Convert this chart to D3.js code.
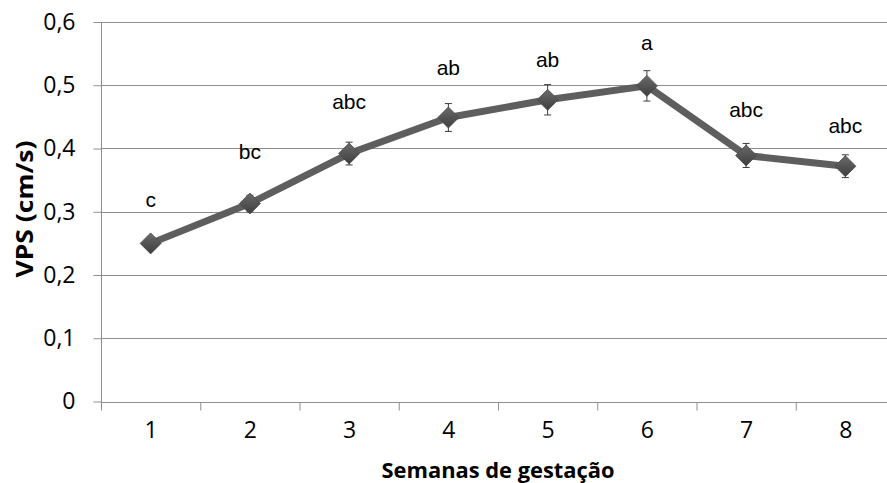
<!DOCTYPE html>
<html>
<head>
<meta charset="utf-8">
<script src="https://cdn.jsdelivr.net/npm/d3@7"></script>
<style>
  body { margin: 0; background: #fff; }
  svg { display: block; }
</style>
</head>
<body>
<script>
// weeks of gestation and VPS means (cm/s)
var weeks = [1, 2, 3, 4, 5, 6, 7, 8]
var vps = [0.250, 0.313, 0.392, 0.449, 0.477, 0.499, 0.389, 0.372]
var vpsErr = [0.006, 0.013, 0.018, 0.022, 0.024, 0.024, 0.019, 0.018]
// significance letters and the height (in cm/s) where each one sits
var letters = ["c", "bc", "abc", "ab", "ab", "a", "abc", "abc"]
var letterAt = [0.307, 0.383, 0.462, 0.516, 0.529, 0.555, 0.450, 0.424]
var yTicks = [0, 0.1, 0.2, 0.3, 0.4, 0.5, 0.6]

var width = 887
var height = 483

var svg = d3.select("body").append("svg")
    .attr("width", width)
    .attr("height", height)

// x runs in week units, bands are one week wide (chart is cut off on the right)
var x = d3.scaleLinear([0.5, 8.5], [101, 895])
var y = d3.scaleLinear([0, 0.6], [401.5, 22])

var gridColor = "#8e8e8e"

// horizontal gridlines
svg.append("g")
    .selectAll("line")
    .data(yTicks.slice(1))
    .join("line")
    .attr("x1", x(0.5))
    .attr("x2", x(8.5))
    .attr("y1", d => Math.round(y(d)) + 0.5)
    .attr("y2", d => Math.round(y(d)) + 0.5)
    .attr("stroke", gridColor)
    .attr("stroke-width", 1)

// y axis
var yAxis = svg.append("g")
    .attr("transform", "translate(" + (Math.round(x(0.5)) + 0.5) + ",0)")
    .call(d3.axisLeft(y)
        .tickValues(yTicks)
        .tickSize(8)
        .tickPadding(18)
        .tickFormat(d => d === 0 ? "0" : d3.format(".1f")(d).replace(".", ",")))
yAxis.select(".domain").attr("stroke", gridColor).attr("d", "M-0," + y(0.6) + "V" + (y(0) + 8))
yAxis.selectAll(".tick line").attr("stroke", gridColor)
yAxis.selectAll(".tick text")
    .attr("fill", "#000")
    .style("font-family", "'Open Sans', sans-serif")
    .style("font-size", "23px")

// x axis: tick marks between weeks, labels on the weeks
var xAxis = svg.append("g")
    .attr("transform", "translate(0," + (Math.round(y(0)) + 0.5) + ")")
    .call(d3.axisBottom(x)
        .tickValues(d3.range(0.5, 9, 1))
        .tickSize(8)
        .tickFormat(""))
xAxis.select(".domain").attr("stroke", gridColor).attr("d", "M" + x(0.5) + ",0H" + x(8.5))
xAxis.selectAll(".tick line").attr("stroke", gridColor)

svg.append("g")
    .attr("transform", "translate(0," + (Math.round(y(0)) + 0.5) + ")")
    .call(d3.axisBottom(x).tickValues(weeks).tickSize(0).tickPadding(19).tickFormat(d3.format("d")))
    .call(g => g.select(".domain").remove())
    .selectAll("text")
    .attr("fill", "#000")
    .style("font-family", "'Open Sans', sans-serif")
    .style("font-size", "23px")

// axis titles
svg.append("text")
    .attr("x", (x(0.5) + x(8.5)) / 2)
    .attr("y", 478)
    .attr("text-anchor", "middle")
    .attr("textLength", 233)
    .attr("lengthAdjust", "spacingAndGlyphs")
    .style("font-family", "'Open Sans', sans-serif")
    .style("font-weight", "bold")
    .style("font-size", "22px")
    .text("Semanas de gestação")

svg.append("text")
    .attr("transform", "translate(33," + 209 + ") rotate(-90)")
    .attr("text-anchor", "middle")
    .attr("textLength", 137)
    .attr("lengthAdjust", "spacingAndGlyphs")
    .style("font-family", "'Open Sans', sans-serif")
    .style("font-weight", "bold")
    .style("font-size", "23px")
    .text("VPS (cm/s)")

var pts = weeks.map((w, i) => ({ w: w, v: vps[i], e: vpsErr[i], l: letters[i], la: letterAt[i] }))

// the line
svg.append("path")
    .datum(pts)
    .attr("fill", "none")
    .attr("stroke", "#5e5e5e")
    .attr("stroke-width", 7)
    .attr("stroke-linejoin", "round")
    .attr("d", d3.line().x(d => x(d.w)).y(d => y(d.v)))

// error bars
var bars = svg.append("g")
    .attr("stroke", "#3c3c3c")
    .attr("stroke-width", 1)
    .selectAll("g")
    .data(pts)
    .join("g")
bars.append("line")
    .attr("x1", d => x(d.w)).attr("x2", d => x(d.w))
    .attr("y1", d => y(d.v + d.e)).attr("y2", d => y(d.v - d.e))
bars.append("line")
    .attr("x1", d => x(d.w) - 3.5).attr("x2", d => x(d.w) + 3.5)
    .attr("y1", d => y(d.v + d.e)).attr("y2", d => y(d.v + d.e))
bars.append("line")
    .attr("x1", d => x(d.w) - 3.5).attr("x2", d => x(d.w) + 3.5)
    .attr("y1", d => y(d.v - d.e)).attr("y2", d => y(d.v - d.e))

// diamond markers with a little shading
var grad = svg.append("defs").append("linearGradient")
    .attr("id", "mk")
    .attr("x1", "0").attr("y1", "0").attr("x2", "0").attr("y2", "1")
grad.append("stop").attr("offset", "0%").attr("stop-color", "#6a6a6a")
grad.append("stop").attr("offset", "100%").attr("stop-color", "#3e3e3e")

svg.append("g")
    .selectAll("path")
    .data(pts)
    .join("path")
    .attr("transform", d => "translate(" + x(d.w) + "," + y(d.v) + ")")
    .attr("d", "M0,-10.5L10.5,0L0,10.5L-10.5,0Z")
    .attr("fill", "url(#mk)")
    .attr("stroke", "#4a4a4a")
    .attr("stroke-width", 0.8)

// significance letters
svg.append("g")
    .selectAll("text")
    .data(pts)
    .join("text")
    .attr("x", d => x(d.w))
    .attr("y", d => y(d.la))
    .attr("text-anchor", "middle")
    .style("font-family", "'Liberation Sans', Arial, sans-serif")
    .style("font-size", "21px")
    .attr("fill", "#000")
    .text(d => d.l)
</script>
</body>
</html>
